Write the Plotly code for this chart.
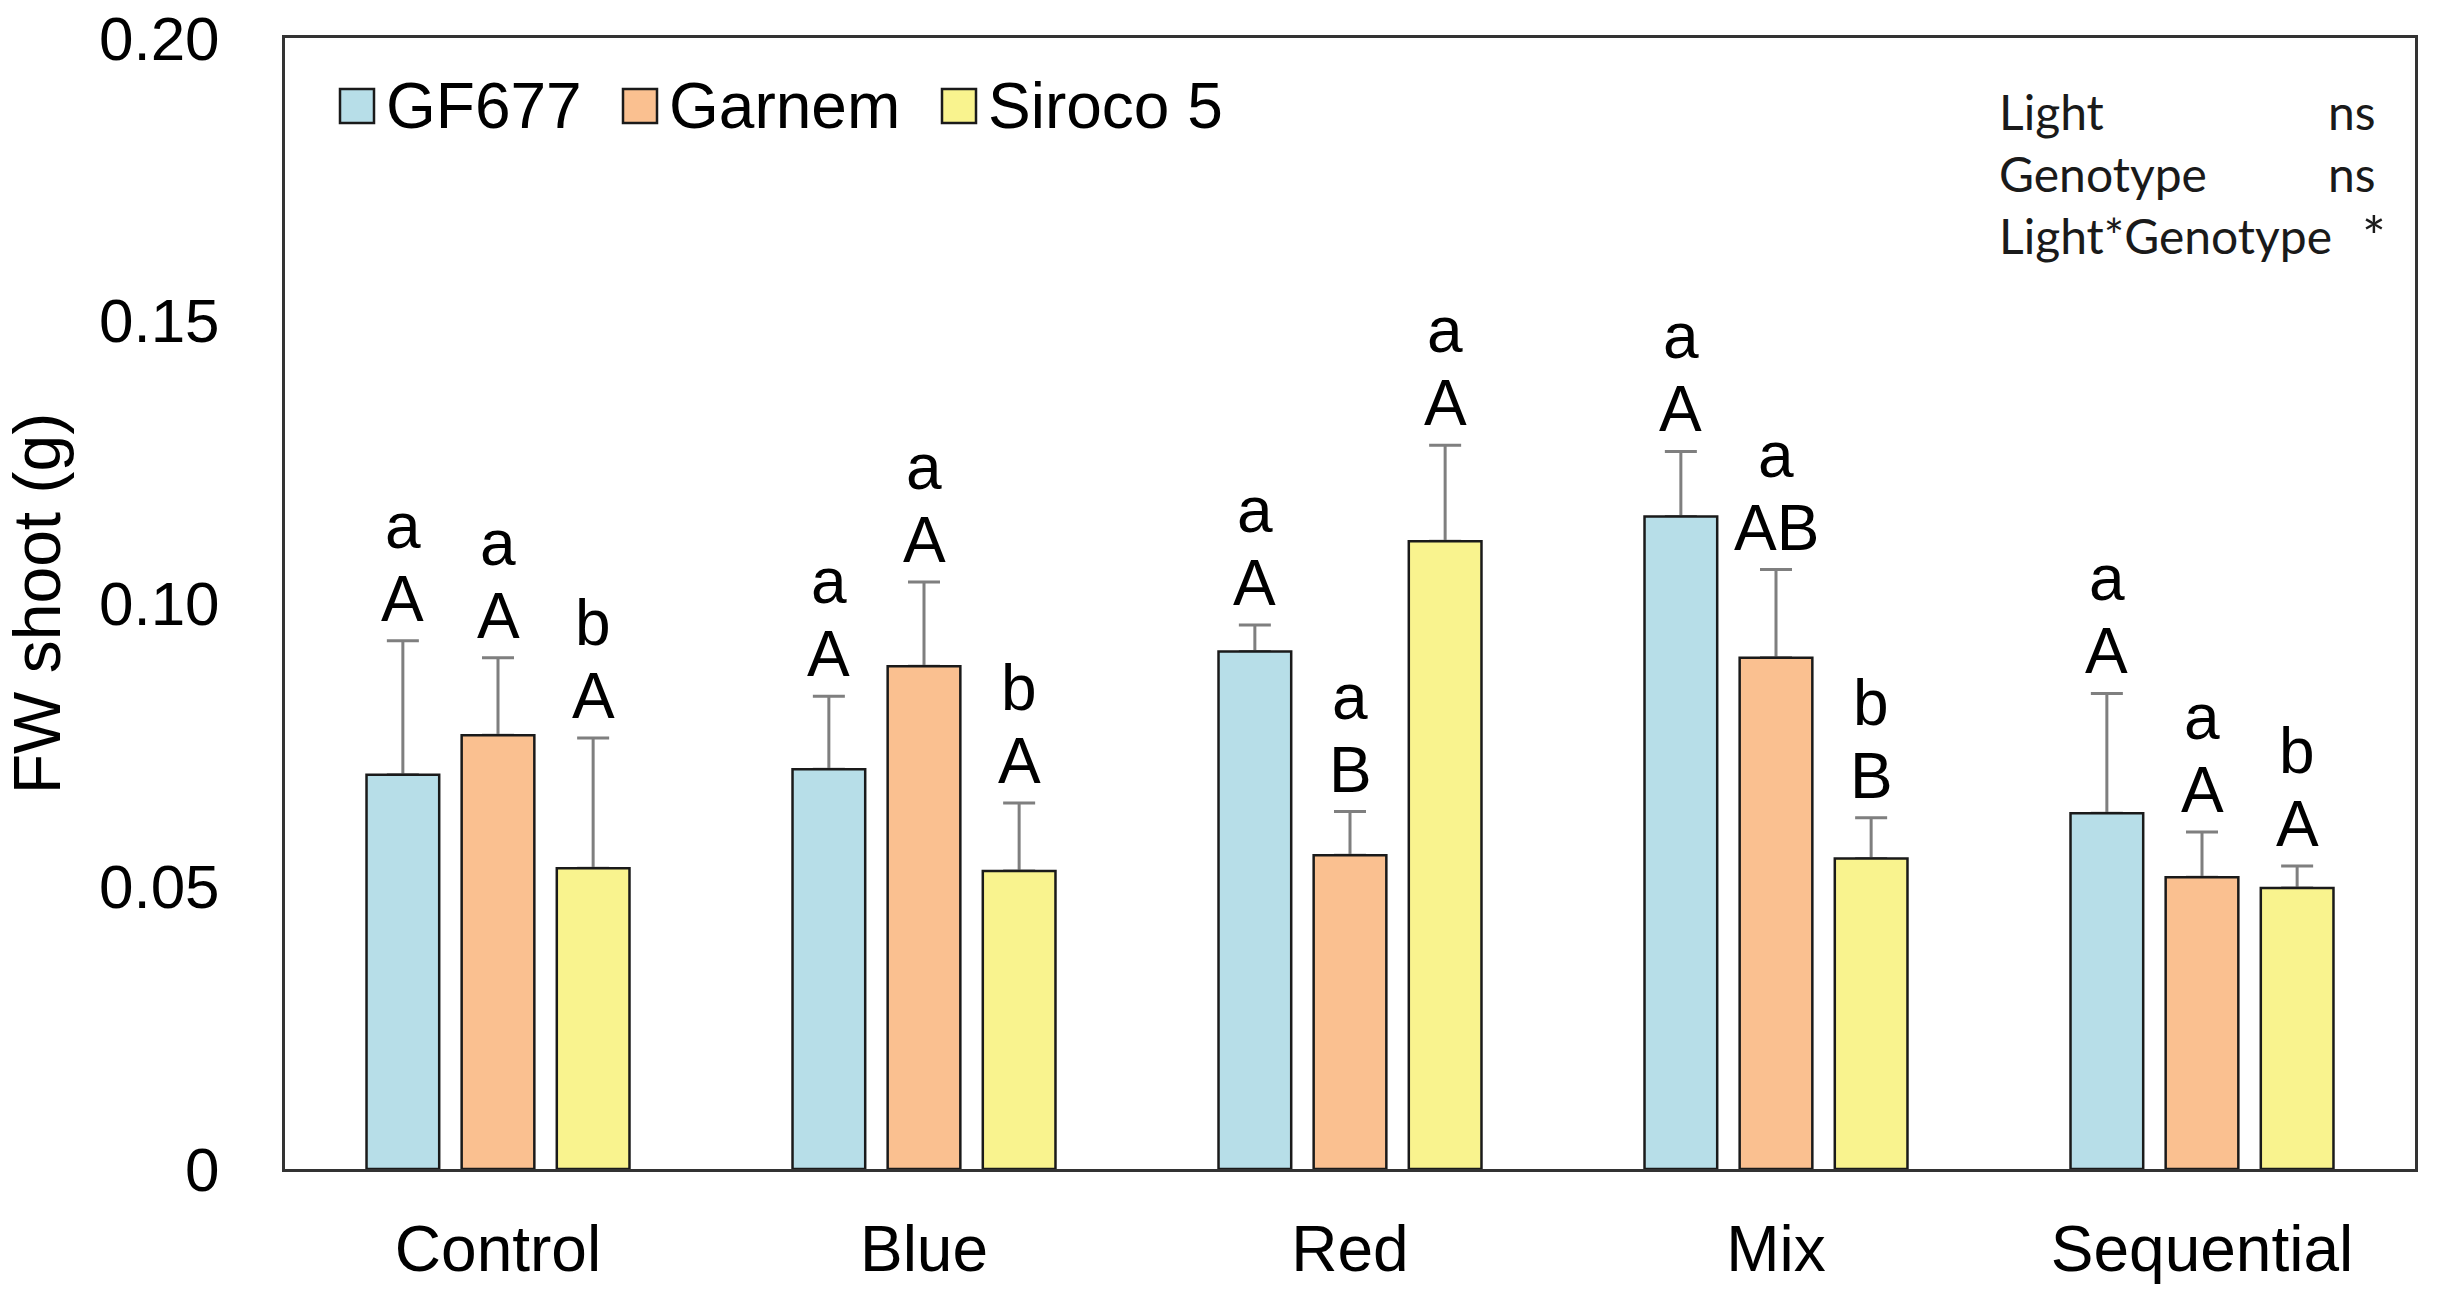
import plotly.graph_objects as go

# data
lights = ["Control", "Blue", "Red", "Mix", "Sequential"]
genotypes = ["GF677", "Garnem", "Siroco 5"]

fw_gf677 = [0.0697, 0.0707, 0.0915, 0.1154, 0.0629]
fw_garnem = [0.0767, 0.0889, 0.0555, 0.0904, 0.0516]
fw_siroco = [0.0532, 0.0527, 0.1110, 0.0549, 0.0497]

se_gf677 = [0.0237, 0.0129, 0.0047, 0.0115, 0.0212]
se_garnem = [0.0137, 0.0149, 0.0077, 0.0156, 0.0080]
se_siroco = [0.0230, 0.0120, 0.0170, 0.0072, 0.0039]

# letters: lowercase = genotype comparison, uppercase = light comparison
low_gf677 = ["a", "a", "a", "a", "a"]
up_gf677 = ["A", "A", "A", "A", "A"]
low_garnem = ["a", "a", "a", "a", "a"]
up_garnem = ["A", "A", "B", "AB", "A"]
low_siroco = ["b", "b", "a", "b", "b"]
up_siroco = ["A", "A", "A", "B", "A"]

stats_terms = ["Light", "Genotype", "Light*Genotype"]
stats_sig = ["ns", "ns", "*"]

colors = ["#B7DEE8", "#FAC090", "#F9F38E"]
values = [fw_gf677, fw_garnem, fw_siroco]
errors = [se_gf677, se_garnem, se_siroco]
lowers = [low_gf677, low_garnem, low_siroco]
uppers = [up_gf677, up_garnem, up_siroco]

W, H = 2437, 1296
# plot box edges in page pixels
BOX_L, BOX_R, BOX_T, BOX_B = 285, 2415, 38, 1169
ML, MR = BOX_L, W - BOX_R
MT, MB = BOX_T, H - BOX_B
BARGAP, GROUPGAP = 0.33, 0.236
FONT = "Liberation Sans, Arial, sans-serif"
STATS_FONT = "Lato, Open Sans, sans-serif"

plot_w = BOX_R - BOX_L
plot_h = BOX_B - BOX_T


def px_x(sx):
    return (sx - BOX_L) / plot_w


def px_y(sy):
    return (BOX_B - sy) / plot_h


fig = go.Figure()

# error bars first so the real bars hide the lower cap
for name, v, e in zip(genotypes, values, errors):
    fig.add_trace(go.Bar(
        x=lights, y=v, offsetgroup=name, showlegend=False, hoverinfo="skip",
        marker=dict(color="rgba(0,0,0,0)", line=dict(width=0)),
        error_y=dict(type="data", symmetric=False, array=e, arrayminus=[0] * len(e),
                     color="#7f7f7f", thickness=3, width=16),
    ))

for name, v, c in zip(genotypes, values, colors):
    fig.add_trace(go.Bar(
        x=lights, y=v, name=name, offsetgroup=name, showlegend=False,
        marker=dict(color=c, line=dict(color="#1a1a1a", width=2.5)),
    ))

# significance letters above each bar
slot = plot_w / len(lights) * (1 - BARGAP) / len(genotypes)
for gi, (v, e, lo, up) in enumerate(zip(values, errors, lowers, uppers)):
    for li, cat in enumerate(lights):
        top = v[li] + e[li]
        for txt, shift in ((up[li], 4), (lo[li], 77)):
            fig.add_annotation(
                x=cat, y=top, xref="x", yref="y", text=txt, showarrow=False,
                xshift=(gi - 1) * slot, yshift=shift, yanchor="bottom",
                font=dict(family=FONT, size=64, color="black"),
            )

# hand-made legend (bigger swatches than plotly's own)
leg_x = [340, 623, 942]
leg_y = px_y(106)
for name, c, sx in zip(genotypes, colors, leg_x):
    fig.add_shape(type="rect", xref="paper", yref="paper", xsizemode="pixel", ysizemode="pixel",
                  xanchor=px_x(sx), yanchor=leg_y,
                  x0=0, x1=34, y0=-17, y1=17,
                  fillcolor=c, line=dict(color="#1a1a1a", width=2.5))
    fig.add_annotation(x=px_x(sx + 44), y=leg_y,
                       xref="paper", yref="paper", text=name, showarrow=False,
                       xanchor="left", yanchor="middle",
                       font=dict(family=FONT, size=64, color="black"))

# anova summary box
stats_y = [112, 174, 236]
sig_x = [2326, 2326, 2360]
for term, sig, sy, sx in zip(stats_terms, stats_sig, stats_y, sig_x):
    fig.add_annotation(x=px_x(1997), y=px_y(sy), xref="paper", yref="paper",
                       text=term, showarrow=False, xanchor="left", yanchor="middle",
                       font=dict(family=STATS_FONT, size=48, color="#1a1a1a"))
    fig.add_annotation(x=px_x(sx), y=px_y(sy), xref="paper", yref="paper",
                       text=sig, showarrow=False, xanchor="left", yanchor="middle",
                       font=dict(family=STATS_FONT, size=48 if sig != "*" else 56,
                                 color="#1a1a1a"))

fig.update_layout(
    width=W, height=H,
    margin=dict(l=ML, r=MR, t=MT, b=MB, pad=0, autoexpand=False),
    barmode="group", bargap=BARGAP, bargroupgap=GROUPGAP,
    plot_bgcolor="white", paper_bgcolor="white",
    font=dict(family=FONT, color="black"),
    showlegend=False,
)
fig.update_xaxes(
    showline=True, mirror=True, linecolor="#333333", linewidth=3,
    ticks="", showgrid=False, tickfont=dict(size=64), ticklabelstandoff=22,
    automargin=False,
)
fig.update_yaxes(
    range=[0, 0.2], tickvals=[0, 0.05, 0.10, 0.15, 0.20],
    ticktext=["0", "0.05", "0.10", "0.15", "0.20"],
    showline=True, mirror=True, linecolor="#333333", linewidth=3,
    ticks="", showgrid=False, zeroline=False, tickfont=dict(size=62),
    ticklabelstandoff=50, ticklabeloverflow="allow",
    title=dict(text="FW shoot (g)", font=dict(size=66), standoff=28),
    automargin=False,
)

# drop the default body margin so the figure sits at the page corner
fig.write_html("out.html", config={"displayModeBar": False},
               post_script="document.body.style.margin = '0';")
